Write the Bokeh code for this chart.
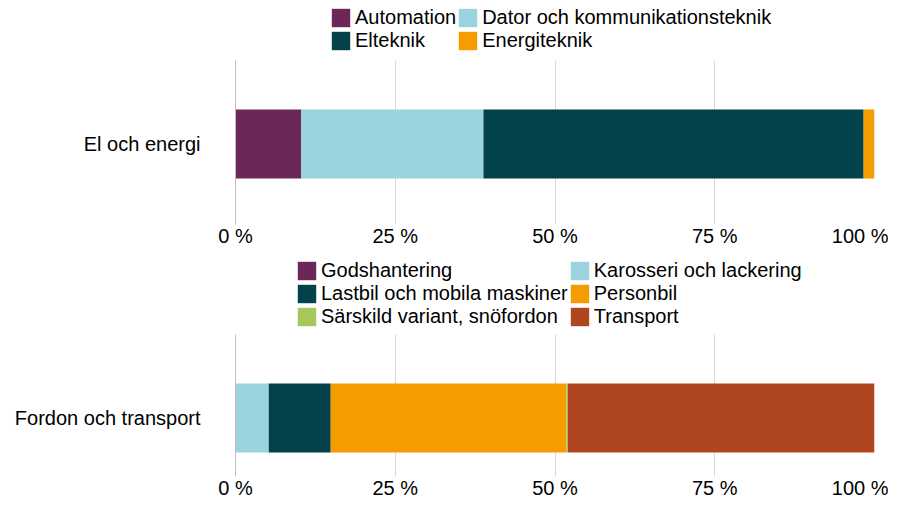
from bokeh.plotting import figure
from bokeh.models import (Range1d, FixedTicker, Legend, LegendItem, ColumnDataSource)
from bokeh.layouts import column
from bokeh.embed import file_html
from bokeh.resources import INLINE

FONT = "Liberation Sans"

# Chart 1
cat1 = ["El och energi"]
series1 = ["Automation", "Dator och kommunikationsteknik", "Elteknik", "Energiteknik"]
values1 = [0.103, 0.285, 0.595, 0.017]
colors1 = ["#6B2758", "#9BD3DF", "#03424A", "#F59C00"]

# Chart 2
cat2 = ["Fordon och transport"]
series2 = ["Godshantering", "Karosseri och lackering", "Lastbil och mobila maskiner",
           "Personbil", "Särskild variant, snöfordon", "Transport"]
values2 = [0.0, 0.052, 0.097, 0.369, 0.002, 0.480]
colors2 = ["#6B2758", "#9BD3DF", "#03424A", "#F59C00", "#A4C95A", "#B0461F"]

tick_vals = [0, 0.25, 0.5, 0.75, 1.0]
tick_labels = ["0 %", "25 %", "50 %", "75 %", "100 %"]


def make_fig(cat, series, values, colors, height, top, bottom, plot_h, bar_y, bar_h, leg_x, leg_y):
    # vertical layout in pixel-like units: 0 = bottom of the plotting band
    frame_h = height - top - bottom
    data = {"pos": [bar_y]}
    for s, v in zip(series, values):
        data[s] = [v]
    src = ColumnDataSource(data)
    p = figure(y_range=Range1d(0, frame_h), x_range=Range1d(0, 1),
               width=888, height=height,
               min_border_left=235, min_border_right=14,
               min_border_top=top, min_border_bottom=bottom,
               output_backend="svg", toolbar_location=None, outline_line_color=None)
    rs = p.hbar_stack(series, y="pos", height=bar_h, color=colors, source=src, line_color=None)
    items = [LegendItem(label=s, renderers=[r]) for s, r in zip(series, rs)]
    # legend fills column by column; reorder so it reads row by row
    n = len(items)
    order = list(range(0, n, 2)) + list(range(1, n, 2))
    items = [items[i] for i in order]
    leg = Legend(items=items, ncols=2, location=(leg_x, leg_y),
                 label_text_font=FONT, label_text_font_size="20px", label_text_color="#000000",
                 glyph_width=23, glyph_height=23, label_height=23, label_standoff=3,
                 spacing=0, padding=0, margin=0, background_fill_alpha=0,
                 border_line_color=None)
    p.add_layout(leg)
    p.xaxis.ticker = FixedTicker(ticks=tick_vals)
    p.xaxis.major_label_overrides = {v: l for v, l in zip(tick_vals, tick_labels)}
    p.xaxis.axis_line_color = None
    p.xaxis.major_tick_line_color = None
    p.xaxis.major_tick_out = 0
    p.xaxis.major_tick_in = 0
    p.xaxis.minor_tick_line_color = None
    p.xaxis.minor_tick_out = 0
    p.xaxis.major_label_text_font = FONT
    p.xaxis.major_label_text_font_size = "20px"
    p.xaxis.major_label_text_color = "#000000"
    p.xaxis.major_label_standoff = 0
    p.yaxis.ticker = FixedTicker(ticks=[bar_y])
    p.yaxis.major_label_overrides = {bar_y: cat[0]}
    p.yaxis.bounds = (0, plot_h)
    p.yaxis.axis_line_color = "#BFBFBF"
    p.yaxis.major_tick_line_color = None
    p.yaxis.major_tick_out = 0
    p.yaxis.minor_tick_line_color = None
    p.yaxis.major_label_text_font = FONT
    p.yaxis.major_label_text_font_size = "20px"
    p.yaxis.major_label_text_color = "#000000"
    p.yaxis.major_label_standoff = 35
    p.xgrid.ticker = FixedTicker(ticks=tick_vals[1:])
    p.xgrid.grid_line_color = "#D9D9D9"
    p.xgrid.cross_bounds = (0, plot_h)
    p.ygrid.grid_line_color = None
    return p


p1 = make_fig(cat1, series1, values1, colors1, 259, 2, 35, 164, 80.5, 69, 94, 172.5)
p2 = make_fig(cat2, series2, values2, colors2, 252, 0, 35, 142, 58.5, 69, 60, 148.5)
layout = column(p1, p2)

open("out.html", "w").write(file_html(layout, INLINE))
